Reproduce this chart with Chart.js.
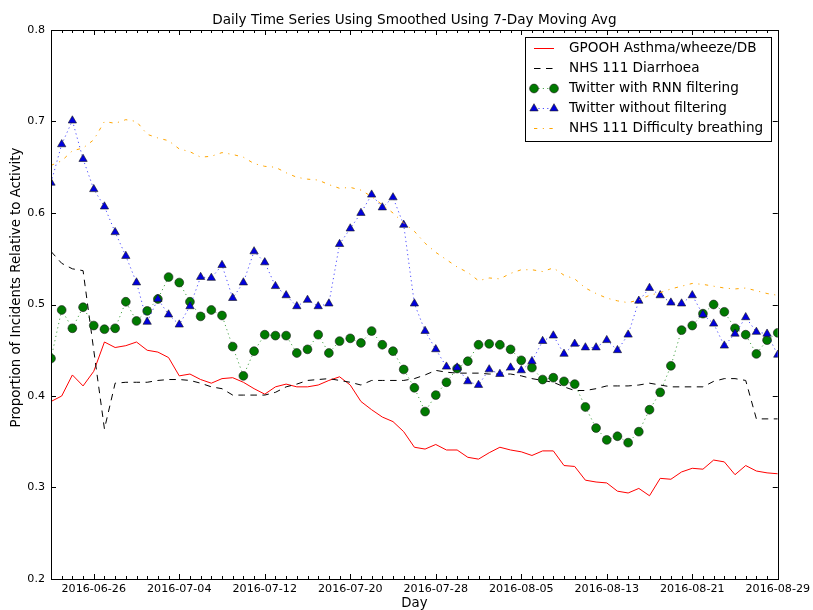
<!DOCTYPE html>
<html>
<head>
<meta charset="utf-8">
<script src="https://cdn.jsdelivr.net/npm/chart.js@4.4.1/dist/chart.umd.min.js"></script>
<style>
  html, body { margin: 0; padding: 0; background: #fff; }
</style>
</head>
<body>
<canvas id="chart" width="813" height="610"></canvas>
<script>
const days = [
  '2016-06-22', '2016-06-23', '2016-06-24', '2016-06-25', '2016-06-26', '2016-06-27', '2016-06-28', '2016-06-29', '2016-06-30',
  '2016-07-01', '2016-07-02', '2016-07-03', '2016-07-04', '2016-07-05', '2016-07-06', '2016-07-07', '2016-07-08', '2016-07-09',
  '2016-07-10', '2016-07-11', '2016-07-12', '2016-07-13', '2016-07-14', '2016-07-15', '2016-07-16', '2016-07-17', '2016-07-18',
  '2016-07-19', '2016-07-20', '2016-07-21', '2016-07-22', '2016-07-23', '2016-07-24', '2016-07-25', '2016-07-26', '2016-07-27',
  '2016-07-28', '2016-07-29', '2016-07-30', '2016-07-31', '2016-08-01', '2016-08-02', '2016-08-03', '2016-08-04', '2016-08-05',
  '2016-08-06', '2016-08-07', '2016-08-08', '2016-08-09', '2016-08-10', '2016-08-11', '2016-08-12', '2016-08-13', '2016-08-14',
  '2016-08-15', '2016-08-16', '2016-08-17', '2016-08-18', '2016-08-19', '2016-08-20', '2016-08-21', '2016-08-22', '2016-08-23',
  '2016-08-24', '2016-08-25', '2016-08-26', '2016-08-27', '2016-08-28', '2016-08-29'
];

// labelled days on the x axis
const tickDays = ['2016-06-26', '2016-07-04', '2016-07-12', '2016-07-20', '2016-07-28', '2016-08-05', '2016-08-13', '2016-08-21', '2016-08-29'];

const gpoohAsthma = [
  0.394, 0.400, 0.423, 0.411, 0.427, 0.459, 0.453, 0.455, 0.459, 0.450,
  0.448, 0.442, 0.422, 0.424, 0.418, 0.414, 0.419, 0.420, 0.415, 0.408,
  0.402, 0.410, 0.413, 0.410, 0.410, 0.412, 0.417, 0.421, 0.412, 0.394,
  0.385, 0.377, 0.372, 0.361, 0.344, 0.342, 0.347, 0.341, 0.341, 0.333,
  0.331, 0.338, 0.344, 0.341, 0.339, 0.335, 0.340, 0.340, 0.324, 0.323,
  0.308, 0.306, 0.305, 0.296, 0.294, 0.299, 0.291, 0.310, 0.309, 0.317,
  0.321, 0.320, 0.330, 0.328, 0.314, 0.324, 0.318, 0.316, 0.315
];

const nhsDiarrhoea = [
  0.558, 0.545, 0.539, 0.537, 0.450, 0.364, 0.414, 0.415, 0.415, 0.415,
  0.417, 0.418, 0.418, 0.417, 0.414, 0.410, 0.408, 0.401, 0.401, 0.401,
  0.401, 0.404, 0.410, 0.413, 0.417, 0.418, 0.419, 0.417, 0.415, 0.412,
  0.417, 0.417, 0.417, 0.417, 0.419, 0.423, 0.428, 0.426, 0.425, 0.425,
  0.425, 0.424, 0.424, 0.424, 0.422, 0.419, 0.417, 0.415, 0.410, 0.406,
  0.406, 0.408, 0.411, 0.411, 0.411, 0.412, 0.414, 0.412, 0.410, 0.410,
  0.410, 0.410, 0.416, 0.419, 0.419, 0.417, 0.375, 0.375, 0.375
];

const twitterRnn = [
  0.441, 0.494, 0.474, 0.497, 0.477, 0.473, 0.474, 0.503, 0.482, 0.493,
  0.506, 0.530, 0.524, 0.503, 0.487, 0.494, 0.488, 0.454, 0.422, 0.449,
  0.467, 0.466, 0.466, 0.447, 0.451, 0.467, 0.447, 0.460, 0.463, 0.458,
  0.471, 0.456, 0.449, 0.429, 0.409, 0.383, 0.401, 0.415, 0.430, 0.438,
  0.456, 0.457, 0.456, 0.451, 0.439, 0.431, 0.418, 0.420, 0.416, 0.413,
  0.388, 0.365, 0.352, 0.356, 0.349, 0.361, 0.385, 0.404, 0.433, 0.472,
  0.477, 0.490, 0.500, 0.492, 0.474, 0.467, 0.446, 0.461, 0.469
];

const twitterRaw = [
  0.633, 0.675, 0.701, 0.659, 0.626, 0.607, 0.579, 0.553, 0.524, 0.481,
  0.506, 0.489, 0.478, 0.498, 0.530, 0.529, 0.543, 0.507, 0.524, 0.558,
  0.546, 0.520, 0.510, 0.498, 0.505, 0.498, 0.501, 0.566, 0.583, 0.600,
  0.620, 0.606, 0.617, 0.587, 0.501, 0.471, 0.451, 0.432, 0.431, 0.416,
  0.412, 0.429, 0.424, 0.431, 0.428, 0.438, 0.460, 0.466, 0.446, 0.457,
  0.453, 0.453, 0.461, 0.450, 0.467, 0.504, 0.518, 0.510, 0.502, 0.501,
  0.510, 0.489, 0.479, 0.455, 0.468, 0.486, 0.470, 0.468, 0.445
];

const nhsBreathing = [
  0.652, 0.657, 0.668, 0.671, 0.680, 0.700, 0.698, 0.702, 0.700, 0.686,
  0.682, 0.679, 0.670, 0.667, 0.661, 0.662, 0.666, 0.664, 0.661, 0.654,
  0.651, 0.650, 0.644, 0.639, 0.637, 0.636, 0.631, 0.627, 0.628, 0.625,
  0.618, 0.609, 0.600, 0.589, 0.580, 0.567, 0.557, 0.549, 0.541, 0.535,
  0.526, 0.529, 0.528, 0.534, 0.538, 0.538, 0.536, 0.540, 0.532, 0.528,
  0.518, 0.512, 0.507, 0.504, 0.502, 0.505, 0.510, 0.513, 0.517, 0.520,
  0.523, 0.522, 0.520, 0.518, 0.517, 0.518, 0.515, 0.512, 0.510
];

const chartTitle = 'Daily Time Series Using Smoothed Using 7-Day Moving Avg';
const yTitle = 'Proportion of Incidents Relative to Activity';

Chart.defaults.font.family = '"DejaVu Sans", sans-serif';
Chart.defaults.color = '#000';

// matplotlib-like titles, frame, inward ticks and boxed legend
const axesFrame = {
  id: 'axesFrame',
  afterDatasetsDraw(chart) {
    const c = chart.ctx;
    const a = chart.chartArea;
    const x = chart.scales.x;
    const y = chart.scales.y;
    c.save();

    c.fillStyle = '#000';
    c.font = '13.6px "DejaVu Sans"';
    c.textAlign = 'center';
    c.textBaseline = 'middle';
    c.fillText(chartTitle, (a.left + a.right) / 2, a.top - 10);

    c.save();
    c.font = '13.3px "DejaVu Sans"';
    c.translate(17, (a.top + a.bottom) / 2 - 17);
    c.rotate(-Math.PI / 2);
    c.fillText(yTitle, 0, 0);
    c.restore();

    c.strokeStyle = '#000';
    c.lineWidth = 1;
    c.beginPath();
    x.ticks.forEach((t, i) => {
      const px = Math.round(x.getPixelForTick(i)) + 0.5;
      const len = tickDays.includes(days[t.value]) ? 5 : 3;
      c.moveTo(px, a.bottom);
      c.lineTo(px, a.bottom - len);
      c.moveTo(px, a.top);
      c.lineTo(px, a.top + len);
    });
    y.ticks.forEach((t, i) => {
      const py = Math.round(y.getPixelForTick(i)) + 0.5;
      c.moveTo(a.left, py);
      c.lineTo(a.left + 5, py);
      c.moveTo(a.right, py);
      c.lineTo(a.right - 5, py);
    });
    c.stroke();
    c.strokeRect(Math.round(a.left) + 0.5, Math.round(a.top) + 0.5, Math.round(a.width), Math.round(a.height));

    // legend
    const lx = Math.round(a.right) - 253;
    const ly = Math.round(a.top) + 7;
    c.fillStyle = '#fff';
    c.fillRect(lx, ly, 246, 104);
    c.strokeRect(lx + 0.5, ly + 0.5, 246, 104);
    chart.data.datasets.forEach((ds, i) => {
      const yy = ly + 11.5 + i * 20;
      c.save();
      c.strokeStyle = ds.borderColor;
      c.lineWidth = ds.borderWidth;
      c.setLineDash(ds.borderDash || []);
      c.beginPath();
      c.moveTo(lx + 9, yy);
      c.lineTo(lx + 29, yy);
      c.stroke();
      c.setLineDash([]);
      if (ds.pointRadius > 0) {
        [lx + 9, lx + 29].forEach(px => {
          c.fillStyle = ds.pointBackgroundColor;
          c.strokeStyle = ds.pointBorderColor;
          c.lineWidth = ds.pointBorderWidth;
          Chart.helpers.drawPoint(c, {
            pointStyle: ds.pointStyle,
            radius: ds.pointRadius,
            rotation: 0,
            borderWidth: ds.pointBorderWidth
          }, px, yy);
        });
      }
      c.restore();
      c.fillStyle = '#000';
      c.font = '13.6px "DejaVu Sans"';
      c.textBaseline = 'middle';
      c.textAlign = 'left';
      c.fillText(ds.label, lx + 44, yy);
    });
    c.restore();
  }
};

new Chart(document.getElementById('chart'), {
  type: 'line',
  data: {
    labels: days,
    datasets: [
      {
        label: 'GPOOH Asthma/wheeze/DB',
        data: gpoohAsthma,
        borderColor: '#ff0000',
        borderWidth: 1,
        pointRadius: 0,
        clip: 0,
        order: 5
      },
      {
        label: 'NHS 111 Diarrhoea',
        data: nhsDiarrhoea,
        borderColor: '#000000',
        borderWidth: 1,
        borderDash: [6.5, 5.5],
        pointRadius: 0,
        clip: 0,
        order: 4
      },
      {
        label: 'Twitter with RNN filtering',
        data: twitterRnn,
        borderColor: 'rgba(0, 128, 0, 0.7)',
        borderWidth: 1,
        borderDash: [1.2, 3.2],
        pointStyle: 'circle',
        pointRadius: 4.4,
        pointBackgroundColor: '#007a00',
        pointBorderColor: '#1a1a1a',
        pointBorderWidth: 0.6,
        clip: 0,
        order: 3
      },
      {
        label: 'Twitter without filtering',
        data: twitterRaw,
        borderColor: 'rgba(0, 0, 255, 0.7)',
        borderWidth: 1,
        borderDash: [1.2, 3.2],
        pointStyle: 'triangle',
        pointRadius: 4.8,
        pointBackgroundColor: '#0000dd',
        pointBorderColor: '#1a1a1a',
        pointBorderWidth: 0.6,
        clip: 0,
        order: 2
      },
      {
        label: 'NHS 111 Difficulty breathing',
        data: nhsBreathing,
        borderColor: '#ffa500',
        borderWidth: 1,
        borderDash: [3.3, 5.5, 1.1, 5.5],
        pointRadius: 0,
        clip: 0,
        order: 1
      }
    ]
  },
  options: {
    responsive: false,
    animation: false,
    events: [],
    layout: { padding: { top: 30, right: 32 } },
    elements: { line: { tension: 0 } },
    plugins: {
      legend: { display: false },
      tooltip: { enabled: false },
      title: { display: false }
    },
    scales: {
      x: {
        type: 'category',
        offset: false,
        grid: { display: false, drawTicks: false },
        border: { display: false },
        ticks: {
          autoSkip: false,
          maxRotation: 0,
          minRotation: 0,
          padding: 3,
          color: '#000',
          font: { size: 11.1 },
          callback: (v, i) => tickDays.includes(days[i]) ? days[i] : ''
        },
        title: {
          display: true,
          text: 'Day',
          color: '#000',
          font: { size: 13.3, lineHeight: 1 },
          padding: { top: 0, bottom: 0 }
        },
        afterFit: s => { s.height = 31; }
      },
      y: {
        min: 0.2,
        max: 0.8,
        grid: { display: false, drawTicks: false },
        border: { display: false },
        ticks: {
          stepSize: 0.1,
          padding: 6,
          color: '#000',
          font: { size: 11.1 },
          callback: v => v.toFixed(1)
        },
        afterFit: s => { s.width = 51; }
      }
    }
  },
  plugins: [axesFrame]
});
</script>
</body>
</html>
